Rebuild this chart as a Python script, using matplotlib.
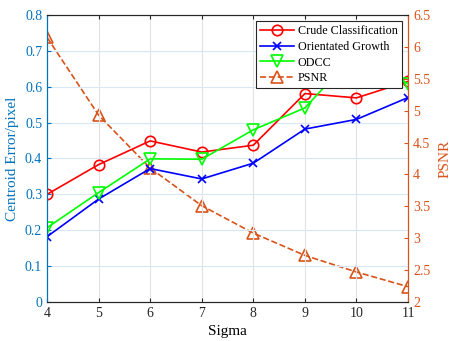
import matplotlib
matplotlib.use('Agg')
import matplotlib.pyplot as plt

plt.rcParams['font.family'] = ['Liberation Serif', 'DejaVu Serif']

sigma = [4, 5, 6, 7, 8, 9, 10, 11]
crude = [0.300, 0.383, 0.449, 0.418, 0.437, 0.581, 0.569, 0.615]
orient = [0.182, 0.287, 0.372, 0.343, 0.387, 0.482, 0.509, 0.570]
odcc = [0.207, 0.305, 0.399, 0.398, 0.480, 0.541, 0.696, 0.608]
psnr = [6.15, 4.93, 4.10, 3.51, 3.08, 2.73, 2.47, 2.24]

blue_ax = '#0072BD'
orange = '#D95319'

fig = plt.figure(figsize=(4.53, 3.41), dpi=100)
ax = fig.add_axes([0.1038, 0.1144, 0.797, 0.8416])
ax2 = ax.twinx()

# right axis sits behind so the left-axis lines are drawn on top
ax.set_zorder(ax2.get_zorder() + 1)
ax.patch.set_visible(False)

l1, = ax.plot(sigma, crude, '-o', color='r', mfc='none', ms=7.5, lw=1.2, mew=1.2, label='Crude Classification')
l2, = ax.plot(sigma, orient, '-x', color='b', ms=6, lw=1.2, mew=1.2, label='Orientated Growth')
l3, = ax.plot(sigma, odcc, '-v', color='#00FF00', mfc='none', ms=8.5, lw=1.2, mew=1.2, label='ODCC')
l4, = ax2.plot(sigma, psnr, '--^', color=orange, mfc='none', ms=8.5, lw=1.2, mew=1.2, label='PSNR')

ax.set_xlim(4, 11)
ax.set_ylim(0, 0.8)
ax.set_yticks([i / 10 for i in range(9)])
ax.set_yticklabels(['0'] + ['%.1f' % (i / 10) for i in range(1, 9)])
ax2.set_ylim(2, 6.5)
ax2.set_yticks([2, 2.5, 3, 3.5, 4, 4.5, 5, 5.5, 6, 6.5])
ax2.set_yticklabels(['2', '2.5', '3', '3.5', '4', '4.5', '5', '5.5', '6', '6.5'])

# vertical grid is grey, horizontal grid picks up a blue tint
ax.xaxis.grid(True, color='#e2e2e2', lw=0.8)
ax.yaxis.grid(True, color='#d9e7f3', lw=0.8)
ax.set_axisbelow(True)

ax.set_xlabel('Sigma', fontsize=11, labelpad=4)
ax.set_ylabel('Centroid Error/pixel', fontsize=11, color=blue_ax, labelpad=4)
ax2.set_ylabel('PSNR', fontsize=11, color=orange, labelpad=6)

ax.tick_params(axis='x', direction='in', top=True, labelsize=10, colors='#262626', length=3)
ax.tick_params(axis='y', direction='in', labelsize=10, colors=blue_ax, length=3)
ax2.tick_params(axis='y', direction='in', labelsize=10, colors=orange, length=3)

for a in (ax, ax2):
    a.spines['top'].set_color('#262626')
    a.spines['bottom'].set_color('#262626')
    a.spines['left'].set_color(blue_ax)
    a.spines['right'].set_color(orange)

leg = ax.legend(handles=[l1, l2, l3, l4], loc='upper right', fontsize=8.7,
                fancybox=False, edgecolor='#262626', framealpha=1,
                handlelength=2.8, borderpad=0.35, labelspacing=0.3,
                handletextpad=0.3, borderaxespad=0.5)
leg.get_frame().set_linewidth(0.8)

fig.savefig('out.png', dpi=100)
plt.close()
